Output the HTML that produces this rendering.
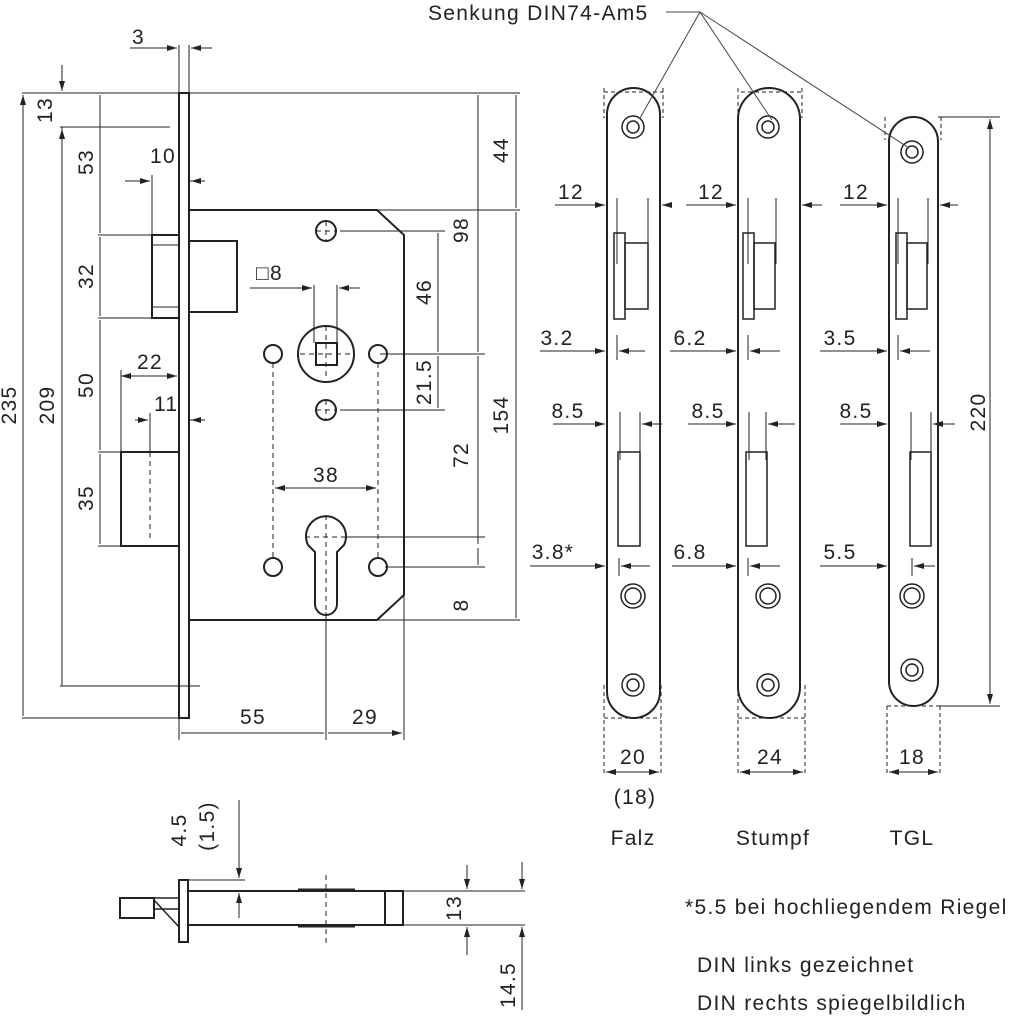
<!DOCTYPE html>
<html><head><meta charset="utf-8"><style>
html,body{margin:0;padding:0;background:#fff}
svg{display:block}
text{font-family:"Liberation Sans",sans-serif;font-size:21px;letter-spacing:1.3px;fill:#222}
</style></head><body>
<svg width="1024" height="1021" viewBox="0 0 1024 1021" xmlns="http://www.w3.org/2000/svg">
<defs>
<marker id="a" viewBox="0 0 10 6" refX="10" refY="3" markerWidth="10" markerHeight="6" markerUnits="userSpaceOnUse" orient="auto-start-reverse"><path d="M0,0L10,3L0,6z" fill="#222"/></marker>
</defs>
<g fill="none" stroke="#222" stroke-width="1">
<g stroke-width="2">
<rect x="179" y="93" width="10" height="625"/>
<path d="M189,210H377L404,235V595L377,620H189"/>
<rect x="152" y="235" width="27" height="83"/>
<rect x="189" y="241" width="48" height="71"/>
<rect x="121" y="452" width="58" height="94"/>
<circle cx="326" cy="354" r="28"/>
<rect x="316" y="343" width="21" height="22"/>
<circle cx="326" cy="231" r="10"/><circle cx="273" cy="354" r="9"/><circle cx="378" cy="354" r="9"/>
<circle cx="326" cy="410" r="10"/><circle cx="273" cy="567" r="9"/><circle cx="378" cy="567" r="9"/>
<path d="M308,545A20,20 0 1 1 344,545L337,552V604A11,11 0 0 1 315,604V552Z"/>
</g>
<path d="M152,245H179M152,307H179" />
<g stroke-dasharray="5,4">
<path d="M273,363V558M378,363V558M150,452V540"/>
<path d="M316,231H336M326,221V241M316,410H336M326,400V420M300,354H352M326,326V380M305,537H347M326,515V612"/>
</g>
<path d="M179,45V93M189,45V93M189,93H520M60,127H170M60,686H200M189,210H520M340,231H445M380,354H485M340,410H445M345,537H485M385,567H485M377,620H520M179,718V740M404,595V740M326,612V740M22,93H179M22,718H179M98,235H152M98,318H152M98,452H121M98,546H121M152,175V235M121,370V452M150,413V452M314,285V343M337,285V343M189,181H205M189,420H205"/>
<g marker-start="url(#a)" marker-end="url(#a)">
<path d="M23,95V716M62,127V686M100,95V233M100,237V316M100,320V450M100,454V544M438,233V352M438,356V408M478,95V352M478,356V544M478,548V565M516,95V208M516,212V618M181,733H324M328,733H402"/>
</g>
<path d="M62,65V91" marker-end="url(#a)"/><path d="M62,150V129" marker-end="url(#a)"/>
<path d="M130,48H177" marker-end="url(#a)"/><path d="M212,48H191" marker-end="url(#a)"/>
<path d="M125,181H150" marker-end="url(#a)"/><path d="M205,181H191" marker-end="url(#a)"/>
<path d="M121,376H177" marker-end="url(#a)" marker-start="url(#a)"/>
<path d="M135,420H148" marker-end="url(#a)"/><path d="M205,420H191" marker-end="url(#a)"/>
<path d="M250,288H312" /><path d="M300,288H312" marker-end="url(#a)"/><path d="M360,288H339" marker-end="url(#a)"/>
<path d="M275,488H376" marker-start="url(#a)" marker-end="url(#a)"/>
</g>
<text x="132" y="44">3</text>
<text transform="translate(52,110) rotate(-90)" text-anchor="middle">13</text>
<text transform="translate(16,405) rotate(-90)" text-anchor="middle">235</text>
<text transform="translate(54,405) rotate(-90)" text-anchor="middle">209</text>
<text transform="translate(93,162) rotate(-90)" text-anchor="middle">53</text>
<text transform="translate(93,276) rotate(-90)" text-anchor="middle">32</text>
<text transform="translate(93,385) rotate(-90)" text-anchor="middle">50</text>
<text transform="translate(93,498) rotate(-90)" text-anchor="middle">35</text>
<text x="150" y="163">10</text>
<text x="137" y="369">22</text>
<text x="154" y="411">11</text>
<text x="256" y="280">□8</text>
<text x="326" y="482" text-anchor="middle">38</text>
<text transform="translate(431,292) rotate(-90)" text-anchor="middle">46</text>
<text transform="translate(431,382) rotate(-90)" text-anchor="middle">21.5</text>
<text transform="translate(468,230) rotate(-90)" text-anchor="middle">98</text>
<text transform="translate(468,455) rotate(-90)" text-anchor="middle">72</text>
<text transform="translate(468,605) rotate(-90)" text-anchor="middle">8</text>
<text transform="translate(508,150) rotate(-90)" text-anchor="middle">44</text>
<text transform="translate(508,415) rotate(-90)" text-anchor="middle">154</text>
<text x="253" y="724" text-anchor="middle">55</text>
<text x="365" y="724" text-anchor="middle">29</text>

<g fill="none" stroke="#222" stroke-width="2">
<rect x="607" y="88" width="53" height="630" rx="26.5"/>
<rect x="738" y="88" width="62" height="630" rx="31"/>
<rect x="889" y="117" width="49" height="589" rx="24.5"/>
<g stroke-width="1.5">
<rect x="614" y="233" width="11" height="86"/><rect x="625" y="243" width="23" height="66"/>
<rect x="618" y="452" width="22" height="94"/>
<rect x="743" y="233" width="11" height="86"/><rect x="754" y="243" width="21" height="66"/>
<rect x="746" y="452" width="21" height="94"/>
<rect x="896" y="233" width="11" height="86"/><rect x="907" y="243" width="20" height="66"/>
<rect x="910" y="452" width="21" height="94"/>
</g>
<g stroke-width="1.5">
<circle cx="633" cy="127" r="11"/><circle cx="633" cy="127" r="6"/>
<circle cx="633" cy="685" r="11"/><circle cx="633" cy="685" r="6"/>
<circle cx="633" cy="596" r="12"/><circle cx="633" cy="596" r="8"/>
<circle cx="768" cy="127" r="11"/><circle cx="768" cy="127" r="6"/>
<circle cx="768" cy="685" r="11"/><circle cx="768" cy="685" r="6"/>
<circle cx="768" cy="596" r="12"/><circle cx="768" cy="596" r="8"/>
<circle cx="912" cy="152" r="11"/><circle cx="912" cy="152" r="6"/>
<circle cx="912" cy="670" r="11"/><circle cx="912" cy="670" r="6"/>
<circle cx="912" cy="596" r="12"/><circle cx="912" cy="596" r="8"/>
</g>
</g>
<g fill="none" stroke="#222" stroke-width="1">
<g stroke-dasharray="4,3">
<path d="M604,88V118M663,88V118M604,92H663M741,92H802M738,88V118M802,88V118M885,117V140M941,117V140M604,685V775M661,685V775M604,718H661M738,685V775M805,685V775M738,718H805M887,706V775M940,706V775M887,706H1000"/>
</g>
<path d="M617,198V264M648,198V264M748,198V264M776,198V264M898,198V264M928,198V264M617,335V360M748,335V360M898,335V360M620,412V460M640,412V460M749,412V460M766,412V460M911,412V460M931,412V460M619,558V576M748,558V576M912,558V576M938,117H1000M938,706H1000"/>
<path d="M555,205H605" marker-end="url(#a)"/><path d="M672,205H662" marker-end="url(#a)"/>
<path d="M686,205H736" marker-end="url(#a)"/><path d="M822,205H802" marker-end="url(#a)"/>
<path d="M840,205H887" marker-end="url(#a)"/><path d="M958,205H940" marker-end="url(#a)"/>
<path d="M540,351H605" marker-end="url(#a)"/><path d="M645,351H619" marker-end="url(#a)"/>
<path d="M670,351H736" marker-end="url(#a)"/><path d="M780,351H750" marker-end="url(#a)"/>
<path d="M820,351H887" marker-end="url(#a)"/><path d="M930,351H900" marker-end="url(#a)"/>
<path d="M553,424H605" marker-end="url(#a)"/><path d="M662,424H642" marker-end="url(#a)"/>
<path d="M688,424H736" marker-end="url(#a)"/><path d="M795,424H768" marker-end="url(#a)"/>
<path d="M840,424H887" marker-end="url(#a)"/><path d="M955,424H933" marker-end="url(#a)"/>
<path d="M530,566H605" marker-end="url(#a)"/><path d="M650,566H621" marker-end="url(#a)"/>
<path d="M672,566H736" marker-end="url(#a)"/><path d="M780,566H750" marker-end="url(#a)"/>
<path d="M820,566H887" marker-end="url(#a)"/><path d="M935,566H914" marker-end="url(#a)"/>
<path d="M990,119V704" marker-start="url(#a)" marker-end="url(#a)"/>
<path d="M606,772H659" marker-start="url(#a)" marker-end="url(#a)"/>
<path d="M740,772H803" marker-start="url(#a)" marker-end="url(#a)"/>
<path d="M889,772H938" marker-start="url(#a)" marker-end="url(#a)"/>
<path d="M666,12H700L640,118M700,12L772,120M700,12L909,148" stroke="#444"/>
</g>
<text x="428" y="20">Senkung DIN74-Am5</text>
<text x="571" y="199" text-anchor="middle">12</text><text x="711" y="199" text-anchor="middle">12</text><text x="856" y="199" text-anchor="middle">12</text>
<text x="557" y="345" text-anchor="middle">3.2</text><text x="690" y="345" text-anchor="middle">6.2</text><text x="840" y="345" text-anchor="middle">3.5</text>
<text x="568" y="418" text-anchor="middle">8.5</text><text x="708" y="418" text-anchor="middle">8.5</text><text x="856" y="418" text-anchor="middle">8.5</text>
<text x="553" y="559" text-anchor="middle">3.8*</text><text x="690" y="559" text-anchor="middle">6.8</text><text x="840" y="559" text-anchor="middle">5.5</text>
<text transform="translate(985,412) rotate(-90)" text-anchor="middle">220</text>
<text x="633" y="764" text-anchor="middle">20</text><text x="770" y="764" text-anchor="middle">24</text><text x="912" y="764" text-anchor="middle">18</text>
<text x="635" y="804" text-anchor="middle">(18)</text>
<text x="633" y="845" text-anchor="middle">Falz</text><text x="773" y="845" text-anchor="middle">Stumpf</text><text x="912" y="845" text-anchor="middle">TGL</text>

<g fill="none" stroke="#222" stroke-width="2">
<rect x="179" y="880" width="9" height="62"/>
<path d="M188,891H403M188,925H403"/>
<rect x="385" y="891" width="18" height="34"/>
<rect x="120" y="898" width="34" height="20"/>
<path d="M154,898H179M154,900L179,927M154,909H179" stroke-width="1.5"/>
<path d="M298,890H355M298,926H355" stroke-width="3"/>
</g>
<g fill="none" stroke="#222" stroke-width="1">
<path d="M326,875V945" stroke-dasharray="5,4"/>
<path d="M188,880H245M403,891H525M403,925H525"/>
<path d="M239,800V878" marker-end="url(#a)"/><path d="M239,918V893" marker-end="url(#a)"/>
<path d="M467,865V889" marker-end="url(#a)"/><path d="M467,955V927" marker-end="url(#a)"/>
<path d="M522,862V889" marker-end="url(#a)"/><path d="M522,1010V927" marker-end="url(#a)"/>
</g>
<text transform="translate(186,830) rotate(-90)" text-anchor="middle">4.5</text>
<text transform="translate(214,826) rotate(-90)" text-anchor="middle">(1.5)</text>
<text transform="translate(461,908) rotate(-90)" text-anchor="middle">13</text>
<text transform="translate(515,985) rotate(-90)" text-anchor="middle">14.5</text>
<text x="685" y="914">*5.5 bei hochliegendem Riegel</text>
<text x="697" y="972">DIN links gezeichnet</text>
<text x="697" y="1010">DIN rechts spiegelbildlich</text>
</svg>
</body></html>
